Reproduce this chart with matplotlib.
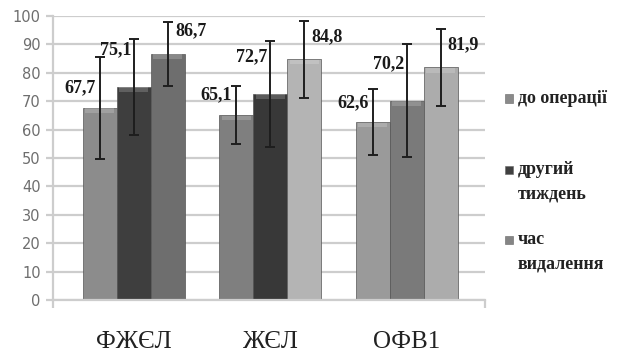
import numpy as np
import matplotlib
matplotlib.use("Agg")
import matplotlib.pyplot as plt
from matplotlib.patches import Rectangle

# дані
categories = ["ФЖЄЛ", "ЖЄЛ", "ОФВ1"]
series_names = ["до операції", "другий\nтиждень", "час\nвидалення"]
before_op = [67.7, 65.1, 62.6]
second_week = [75.1, 72.7, 70.2]
removal = [86.7, 84.8, 81.9]
err_before = [18.0, 10.3, 11.6]
err_second = [17.0, 18.7, 20.0]
err_removal = [11.2, 13.5, 13.4]
labels_before = ["67,7", "65,1", "62,6"]
labels_second = ["75,1", "72,7", "70,2"]
labels_removal = ["86,7", "84,8", "81,9"]

values = [before_op, second_week, removal]
errors = [err_before, err_second, err_removal]
labels = [labels_before, labels_second, labels_removal]

# кольори кожного стовпця (сірі відтінки як на оригіналі)
bar_colors = [
    ["#8c8c8c", "#7f7f7f", "#9a9a9a"],
    ["#3e3e3e", "#383838", "#7a7a7a"],
    ["#6e6e6e", "#b4b4b4", "#acacac"],
]
legend_colors = ["#8a8a8a", "#404040", "#858585"]
label_dx = [-20, -18, 23]   # зсув підписів, пікселі
label_dy = [20, 37, 23]

fig = plt.figure(figsize=(6.34, 3.58), dpi=100)
ax = fig.add_axes([0.084, 0.162, 0.681, 0.793])

x = np.arange(len(categories))
w = 0.249
grid_c = "#cdcdcd"

for i in range(3):
    xs = x + (i - 1) * w
    ax.bar(xs, values[i], width=w, color=bar_colors[i], edgecolor="#555555",
           linewidth=0.5, zorder=2)
    # світла смужка зверху - ефект об'єму
    ax.bar(xs, [1.6] * 3, bottom=np.array(values[i]) - 1.8, width=w * 0.85,
           color="white", alpha=0.18, linewidth=0, zorder=3)
    ax.errorbar(xs, values[i], yerr=errors[i], fmt="none", ecolor="#1e1e1e",
                elinewidth=1.4, capsize=3.5, capthick=1.4, zorder=4)
    for j in range(3):
        ax.annotate(labels[i][j], (xs[j], values[i][j]),
                    xytext=(label_dx[i], label_dy[i]), textcoords="offset pixels",
                    ha="center", va="center", family="Liberation Serif",
                    fontweight="bold", fontsize=13, color="#1a1a1a", zorder=5)

ax.set_xlim(-0.59, 2.575)
ax.set_ylim(0, 100)
ax.set_yticks(np.arange(0, 101, 10))
ax.yaxis.grid(True, color=grid_c, linewidth=1.6, zorder=0)
ax.set_axisbelow(True)
ax.tick_params(axis="y", length=5, width=1.6, color=grid_c, labelsize=10.5,
               labelcolor="#6e6e6e", pad=4)
for lab in ax.get_yticklabels():
    lab.set_family("DejaVu Sans")

ax.set_xticks(x)
ax.set_xticklabels(categories, family="Liberation Serif", fontsize=18,
                   color="#222222")
ax.tick_params(axis="x", length=0, pad=22)
ax.set_xticks([-0.59, 2.575], minor=True)
ax.tick_params(axis="x", which="minor", length=6, width=1.6, color=grid_c)

for s in ["top", "right"]:
    ax.spines[s].set_visible(False)
for s in ["left", "bottom"]:
    ax.spines[s].set_color(grid_c)
    ax.spines[s].set_linewidth(1.6)

# легенда праворуч
leg_y = [0.725, 0.525, 0.33]
for i in range(3):
    fig.add_artist(Rectangle((0.797, leg_y[i] - 0.012), 0.012, 0.024,
                             transform=fig.transFigure, facecolor=legend_colors[i],
                             edgecolor="#666666", linewidth=0.4))
    fig.text(0.817, leg_y[i] + 0.024, series_names[i], ha="left", va="top",
             family="Liberation Serif", fontweight="bold", fontsize=13,
             color="#222222", linespacing=1.55)

fig.savefig("out.png", dpi=100)
